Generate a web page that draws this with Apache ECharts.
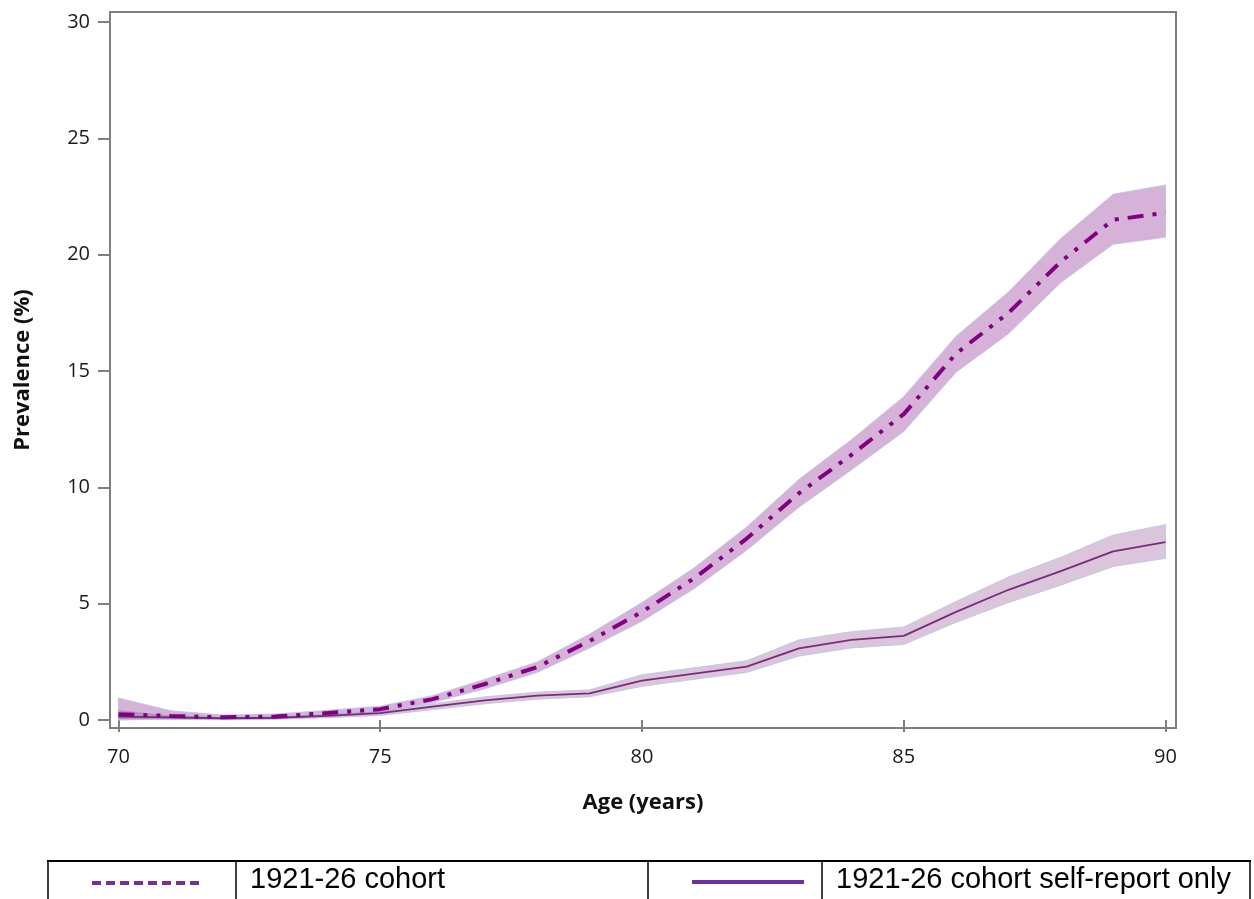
<!DOCTYPE html>
<html>
<head>
<meta charset="utf-8">
<script src="https://cdn.jsdelivr.net/npm/echarts@6/dist/echarts.min.js"></script>
<style>
  html, body { margin: 0; padding: 0; background: #ffffff; }
  #chart { width: 1254px; height: 899px; }
</style>
</head>
<body>
<div id="chart"></div>
<script>
// Age in years
const ages = [70, 71, 72, 73, 74, 75, 76, 77, 78, 79, 80, 81, 82, 83, 84, 85, 86, 87, 88, 89, 90];

// 1921-26 cohort prevalence (%) with confidence band
const cohort   = [0.25, 0.18, 0.12, 0.15, 0.30, 0.47, 0.90, 1.55, 2.28, 3.40, 4.65, 6.10, 7.80, 9.75, 11.40, 13.15, 15.75, 17.50, 19.70, 21.50, 21.80];
const cohortLo = [0.00, 0.05, 0.03, 0.05, 0.20, 0.35, 0.75, 1.35, 2.05, 3.10, 4.25, 5.65, 7.30, 9.15, 10.75, 12.40, 14.95, 16.60, 18.80, 20.45, 20.75];
const cohortHi = [0.95, 0.40, 0.22, 0.26, 0.42, 0.60, 1.05, 1.75, 2.50, 3.70, 5.05, 6.55, 8.30, 10.35, 12.05, 13.90, 16.50, 18.40, 20.70, 22.60, 23.00];

// 1921-26 cohort, self-report only
const selfReport = [0.15, 0.12, 0.08, 0.10, 0.18, 0.30, 0.58, 0.85, 1.05, 1.15, 1.70, 2.00, 2.30, 3.08, 3.45, 3.62, 4.65, 5.60, 6.40, 7.25, 7.65];
const selfLo     = [0.02, 0.03, 0.02, 0.04, 0.10, 0.20, 0.45, 0.70, 0.90, 1.00, 1.45, 1.75, 2.05, 2.75, 3.10, 3.25, 4.20, 5.05, 5.80, 6.60, 6.95];
const selfHi     = [0.45, 0.22, 0.15, 0.17, 0.27, 0.40, 0.70, 1.00, 1.20, 1.30, 1.95, 2.25, 2.55, 3.45, 3.80, 4.00, 5.10, 6.15, 7.00, 7.95, 8.40];

// Axis ticks
const xTicks = [70, 75, 80, 85, 90];
const yTicks = [0, 5, 10, 15, 20, 25, 30];

// Legend entries
const legendNames = ['1921-26 cohort', '1921-26 cohort self-report only'];

const pairs = (ys) => ages.map((a, i) => [a, ys[i]]);

// Confidence band drawn as one polygon: upper edge left-to-right, lower edge back.
function band(lo, hi, fill) {
  return {
    type: 'custom',
    data: ages.map((a, i) => [a, lo[i], hi[i]]),
    encode: { x: 0, y: [1, 2] },
    silent: true,
    z: 1,
    renderItem: (params, api) => {
      if (params.dataIndexInside !== 0) return null;
      const n = params.dataInsideLength;
      const pts = [];
      for (let j = 0; j < n; j++) pts.push(api.coord([api.value(0, j), api.value(2, j)]));
      for (let j = n - 1; j >= 0; j--) pts.push(api.coord([api.value(0, j), api.value(1, j)]));
      return {
        type: 'polygon',
        shape: { points: pts },
        style: { fill: fill, stroke: 'rgba(188,196,228,0.85)', lineWidth: 1 }
      };
    }
  };
}

const tickFont = { fontFamily: 'Open Sans', fontSize: 20, color: '#1a1a1a' };
const titleFont = { fontFamily: 'Open Sans', fontWeight: 'bold', fontSize: 22, color: '#111111' };

const chart = echarts.init(document.getElementById('chart'), null, { renderer: 'canvas' });

chart.setOption({
  animation: false,
  backgroundColor: '#ffffff',
  grid: {
    left: 110, top: 12, right: 78, bottom: 171,
    show: true, borderColor: '#7f7f7f', borderWidth: 2, backgroundColor: 'transparent'
  },
  xAxis: {
    type: 'value', min: 69.84, max: 90.2,
    name: 'Age (years)', nameLocation: 'middle', nameGap: 64,
    nameTextStyle: titleFont,
    axisLine: { show: false },
    axisTick: { show: true, length: 12, customValues: xTicks, lineStyle: { color: '#7f7f7f', width: 2 } },
    axisLabel: { customValues: xTicks, margin: 19, ...tickFont },
    splitLine: { show: false }
  },
  yAxis: {
    type: 'value', min: -0.34, max: 30.43,
    name: 'Prevalence (%)', nameLocation: 'middle', nameGap: 76, nameRotate: 90,
    nameTextStyle: titleFont,
    axisLine: { show: false },
    axisTick: { show: true, length: 12, customValues: yTicks, lineStyle: { color: '#7f7f7f', width: 2 } },
    axisLabel: { customValues: yTicks, margin: 20, ...tickFont },
    splitLine: { show: false }
  },
  series: [
    band(cohortLo, cohortHi, 'rgba(152,62,160,0.40)'),
    band(selfLo, selfHi, 'rgba(132,62,135,0.30)'),
    {
      name: legendNames[1], type: 'line', data: pairs(selfReport), symbol: 'none', z: 3,
      lineStyle: { color: '#7a2a7a', width: 1.8 }
    },
    {
      name: legendNames[0], type: 'line', data: pairs(cohort), symbol: 'none', z: 4,
      lineStyle: { color: '#800080', width: 4, type: [16, 9, 4, 9, 4, 9], cap: 'butt' }
    }
  ],
  graphic: [
    // legend table frame
    { type: 'line', shape: { x1: 47, y1: 861, x2: 1251, y2: 861 }, style: { stroke: '#000', lineWidth: 2 } },
    { type: 'line', shape: { x1: 48, y1: 861, x2: 48, y2: 899 }, style: { stroke: '#000', lineWidth: 1.5 } },
    { type: 'line', shape: { x1: 236, y1: 861, x2: 236, y2: 899 }, style: { stroke: '#000', lineWidth: 1.5 } },
    { type: 'line', shape: { x1: 648, y1: 861, x2: 648, y2: 899 }, style: { stroke: '#000', lineWidth: 1.5 } },
    { type: 'line', shape: { x1: 822, y1: 861, x2: 822, y2: 899 }, style: { stroke: '#000', lineWidth: 1.5 } },
    { type: 'line', shape: { x1: 1250, y1: 861, x2: 1250, y2: 899 }, style: { stroke: '#000', lineWidth: 1.5 } },
    // legend samples
    { type: 'line', shape: { x1: 92, y1: 883, x2: 199, y2: 883 }, style: { stroke: '#7030a0', lineWidth: 4, lineDash: [9, 5] } },
    { type: 'line', shape: { x1: 692, y1: 882, x2: 804, y2: 882 }, style: { stroke: '#7030a0', lineWidth: 4 } },
    // legend labels
    { type: 'text', x: 250, y: 880, style: { text: legendNames[0], font: '29px "Liberation Sans"', fill: '#000', verticalAlign: 'middle' } },
    { type: 'text', x: 836, y: 880, style: { text: legendNames[1], font: '29px "Liberation Sans"', fill: '#000', verticalAlign: 'middle' } }
  ]
});
</script>
</body>
</html>
